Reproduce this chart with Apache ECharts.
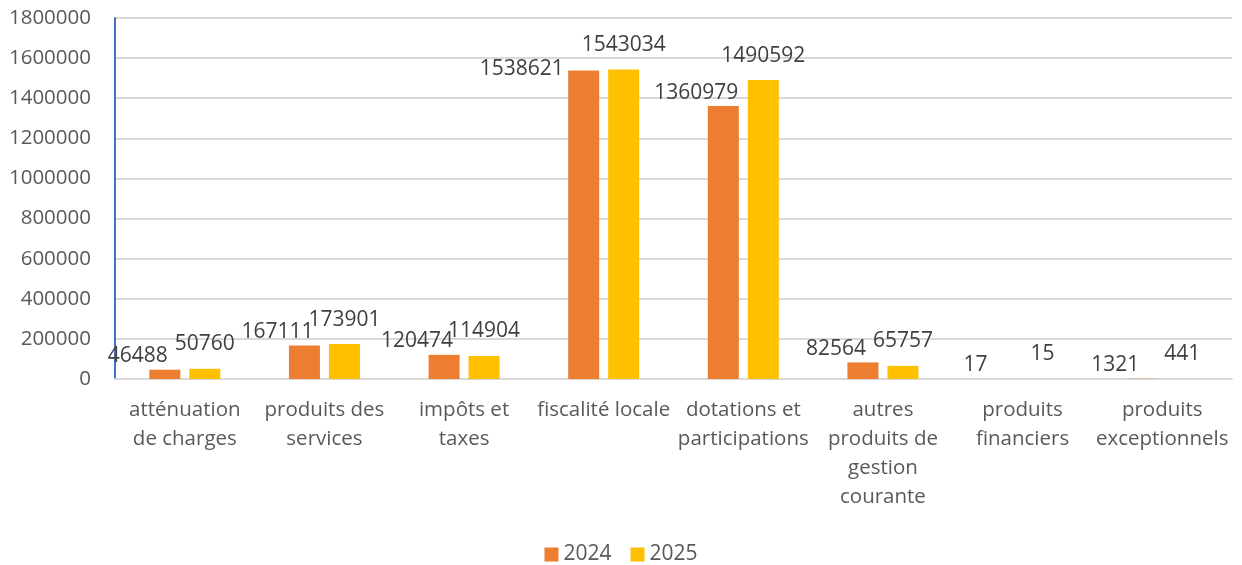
<!DOCTYPE html>
<html>
<head>
<meta charset="utf-8">
<script src="https://cdn.jsdelivr.net/npm/echarts@6/dist/echarts.min.js"></script>
<style>
  html, body { margin: 0; padding: 0; background: #fff; }
  #main { width: 1242px; height: 565px; }
</style>
</head>
<body>
<div id="main"></div>
<script>
// categories & values
const categories = [
  "atténuation\nde charges",
  "produits des\nservices",
  "impôts et\ntaxes",
  "fiscalité locale",
  "dotations et\nparticipations",
  "autres\nproduits de\ngestion\ncourante",
  "produits\nfinanciers",
  "produits\nexceptionnels"
];
const values2024 = [46488, 167111, 120474, 1538621, 1360979, 82564, 17, 1321];
const values2025 = [50760, 173901, 114904, 1543034, 1490592, 65757, 15, 441];
const yTicks = { min: 0, max: 1800000, interval: 200000 };

const FONT = "Open Sans";
const TEXT = "#595959";

var myChart = echarts.init(document.getElementById("main"));

const labelOption = {
  show: true,
  position: "top",
  fontFamily: FONT,
  fontSize: 21,
  color: "#404040"
};

myChart.setOption({
  animation: false,
  grid: { left: 115, right: 10, top: 18, bottom: 186 },
  legend: {
    data: ["2024", "2025"],
    top: 539,
    left: "center",
    itemWidth: 14,
    itemHeight: 14,
    itemGap: 19,
    icon: "rect",
    textStyle: { fontFamily: FONT, fontSize: 21, color: TEXT }
  },
  xAxis: {
    type: "category",
    data: categories,
    axisLine: { show: true, lineStyle: { color: "#d9d9d9", width: 2 } },
    axisTick: { show: false },
    axisLabel: {
      interval: 0,
      margin: 17,
      fontFamily: FONT,
      fontSize: 20.5,
      lineHeight: 29,
      color: TEXT
    }
  },
  yAxis: {
    type: "value",
    min: yTicks.min,
    max: yTicks.max,
    interval: yTicks.interval,
    axisLine: { show: true, lineStyle: { color: "#4472C4", width: 2 } },
    axisTick: { show: false },
    splitLine: { lineStyle: { color: "#d9d9d9", width: 2 } },
    axisLabel: {
      margin: 24,
      fontFamily: FONT,
      fontSize: 20.5,
      color: TEXT,
      formatter: function (v) { return String(v); }
    }
  },
  series: [
    {
      name: "2024",
      type: "bar",
      barWidth: 31,
      barGap: "29%",
      itemStyle: { color: "#ED7D31" },
      label: Object.assign({}, labelOption, { distance: 3, offset: [-27, 0] }),
      data: values2024.map(function (v, i) {
        // the big bar's label sits to the left in the original
        return i === 3 ? { value: v, label: { offset: [-62, 12] } } : v;
      })
    },
    {
      name: "2025",
      type: "bar",
      barWidth: 31,
      itemStyle: { color: "#FFC000" },
      label: Object.assign({}, labelOption, { distance: 14 }),
      data: values2025
    }
  ]
});
</script>
</body>
</html>
